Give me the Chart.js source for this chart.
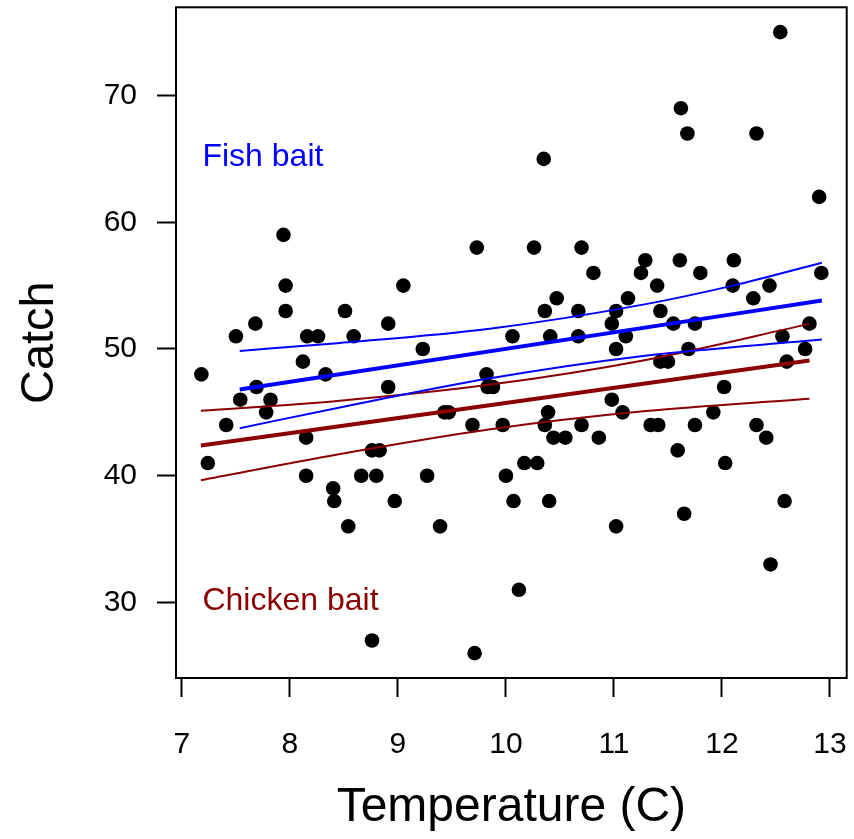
<!DOCTYPE html>
<html>
<head>
<meta charset="utf-8">
<script src="https://cdn.jsdelivr.net/npm/chart.js@4/dist/chart.umd.min.js"></script>
<style>
  html, body { margin: 0; padding: 0; background: #fff; }
  #wrap { width: 854px; height: 839px; }
</style>
</head>
<body>
<div id="wrap"><canvas id="c" width="854" height="839"></canvas></div>
<script>
// ---- data ----
const temperature = [
  7.18, 7.24, 7.41, 7.50, 7.54, 7.68, 7.69, 7.78, 7.82, 7.94,
  7.96, 7.96, 8.12, 8.16, 8.26, 8.15, 8.15, 8.33, 8.40, 8.41,
  8.51, 8.54, 8.59, 8.66, 8.76, 8.76, 8.83, 8.80, 8.91, 8.91,
  8.97, 9.05, 9.23, 9.27, 9.39, 9.43, 9.47, 9.69, 9.73, 9.71,
  9.82, 9.83, 9.88, 9.97, 10.00, 10.06, 10.07, 10.12, 10.17, 10.26,
  10.29, 10.35, 10.36, 10.36, 10.39, 10.41, 10.40, 10.44, 10.47, 10.55,
  10.67, 10.67, 10.70, 10.70, 10.81, 10.86, 10.98, 10.98, 11.02, 11.02,
  11.02, 11.08, 11.11, 11.13, 11.25, 11.29, 11.34, 11.40, 11.41, 11.43,
  11.43, 11.50, 11.55, 11.59, 11.61, 11.62, 11.65, 11.68, 11.69, 11.75,
  11.75, 11.80, 11.92, 12.02, 12.03, 12.10, 12.11, 12.29, 12.32, 12.32,
  12.41, 12.44, 12.45, 12.54, 12.56, 12.60, 12.58, 12.77, 12.81, 12.90,
  12.92
];
const catchCount = [
  48, 41, 44, 51, 46, 52, 47, 45, 46, 59,
  55, 53, 49, 51, 51, 43, 40, 48, 39, 38,
  53, 36, 51, 40, 27, 42, 42, 40, 52, 47,
  38, 55, 50, 40, 36, 45, 45, 44, 58, 26,
  48, 47, 47, 44, 40, 51, 38, 31, 41, 58,
  41, 65, 53, 44, 45, 51, 38, 43, 54, 43,
  53, 51, 58, 44, 56, 43, 52, 46, 53, 50,
  36, 45, 51, 54, 56, 57, 44, 55, 44, 53,
  49, 49, 52, 42, 57, 69, 37, 67, 50, 52,
  44, 56, 45, 47, 41, 55, 57, 54, 67, 44,
  43, 55, 33, 75, 51, 49, 38, 50, 52, 62,
  56
];

// fitted lines and confidence bands
const fishFitX   = [7.535, 12.925];
const fishFitY   = [46.80, 53.82];
const fishUpX    = [7.535, 8.44, 9.85, 11.27, 12.10, 12.925];
const fishUpY    = [49.85, 50.46, 51.60, 53.50, 55.00, 56.80];
const fishLoX    = [7.535, 8.44, 9.84, 11.27, 12.925];
const fishLoY    = [43.75, 45.35, 47.67, 49.45, 50.74];

const chickFitX  = [7.175, 12.81];
const chickFitY  = [42.38, 49.09];
const chickUpX   = [7.175, 8.44, 9.84, 11.27, 12.81];
const chickUpY   = [45.12, 45.90, 47.17, 49.10, 51.98];
const chickLoX   = [7.175, 8.44, 9.84, 11.27, 12.81];
const chickLoY   = [39.65, 41.68, 43.65, 45.08, 46.07];

const xTicks = [7, 8, 9, 10, 11, 12, 13];
const yTicks = [30, 40, 50, 60, 70];

const xTitle = 'Temperature (C)';
const yTitle = 'Catch';
const fishLabel = 'Fish bait';
const chickLabel = 'Chicken bait';

// ---- build ----
const pts = (xs, ys) => xs.map((x, i) => ({ x: x, y: ys[i] }));
const BLUE = '#0000FF';
const DARKRED = '#8B0000';

Chart.defaults.font.family = "'Liberation Sans', Arial, Helvetica, sans-serif";
Chart.defaults.color = '#000';

function lineDs(data, color, width) {
  return {
    type: 'line', data: data, borderColor: color, borderWidth: width,
    pointRadius: 0, fill: false, showLine: true,
    cubicInterpolationMode: 'monotone', order: 0
  };
}

function zeroPad(s) {
  s.paddingTop = 0; s.paddingBottom = 0; s.paddingLeft = 0; s.paddingRight = 0;
}

const boxPlugin = {
  id: 'box',
  afterDatasetsDraw(chart) {
    const { ctx, scales } = chart;
    ctx.save();
    ctx.font = "32px 'Liberation Sans', Arial, sans-serif";
    ctx.textAlign = 'left';
    ctx.textBaseline = 'middle';
    ctx.fillStyle = BLUE;
    ctx.fillText(fishLabel, scales.x.getPixelForValue(7.19), scales.y.getPixelForValue(65.1));
    ctx.fillStyle = DARKRED;
    ctx.fillText(chickLabel, scales.x.getPixelForValue(7.19), scales.y.getPixelForValue(30.1));
    ctx.restore();
  },
  afterDraw(chart) {
    const { ctx, chartArea: a } = chart;
    ctx.save();
    ctx.strokeStyle = '#000';
    ctx.lineWidth = 2;
    ctx.strokeRect(a.left, a.top, a.right - a.left, a.bottom - a.top);
    ctx.restore();
  }
};

new Chart(document.getElementById('c'), {
  type: 'scatter',
  data: {
    datasets: [
      lineDs(pts(fishFitX, fishFitY), BLUE, 4),
      lineDs(pts(fishUpX, fishUpY), BLUE, 2),
      lineDs(pts(fishLoX, fishLoY), BLUE, 2),
      lineDs(pts(chickFitX, chickFitY), DARKRED, 4),
      lineDs(pts(chickUpX, chickUpY), DARKRED, 2),
      lineDs(pts(chickLoX, chickLoY), DARKRED, 2),
      {
        type: 'scatter',
        data: pts(temperature, catchCount),
        backgroundColor: '#000', borderColor: '#000', borderWidth: 0,
        pointRadius: 7.3, pointHoverRadius: 7.3, order: 10
      }
    ]
  },
  options: {
    responsive: false,
    animation: false,
    events: [],
    layout: { padding: { top: 7, right: 3, left: 0, bottom: 0 } },
    plugins: { legend: { display: false }, tooltip: { enabled: false } },
    scales: {
      x: {
        type: 'linear', min: 6.945, max: 13.155,
        afterBuildTicks: s => { s.ticks = xTicks.map(v => ({ value: v })); },
        afterFit: s => { s.height = 161; zeroPad(s); },
        border: { display: false },
        grid: { drawOnChartArea: false, drawTicks: true, tickLength: 19, tickWidth: 2, tickColor: '#000' },
        ticks: { font: { size: 30 }, color: '#000', padding: 30, maxRotation: 0, autoSkip: false,
                 callback: v => String(v) },
        title: { display: true, text: xTitle, font: { size: 48 }, color: '#000', padding: { top: 0, bottom: 2 } }
      },
      y: {
        type: 'linear', min: 24.04, max: 76.96,
        afterBuildTicks: s => { s.ticks = yTicks.map(v => ({ value: v })); },
        afterFit: s => { s.width = 176; zeroPad(s); },
        border: { display: false },
        grid: { drawOnChartArea: false, drawTicks: true, tickLength: 19, tickWidth: 2, tickColor: '#000' },
        ticks: { font: { size: 30 }, color: '#000', padding: 20, autoSkip: false,
                 callback: v => String(v) },
        title: { display: true, text: yTitle, font: { size: 47 }, color: '#000', padding: { top: 12, bottom: 0 } }
      }
    }
  },
  plugins: [boxPlugin]
});
</script>
</body>
</html>
